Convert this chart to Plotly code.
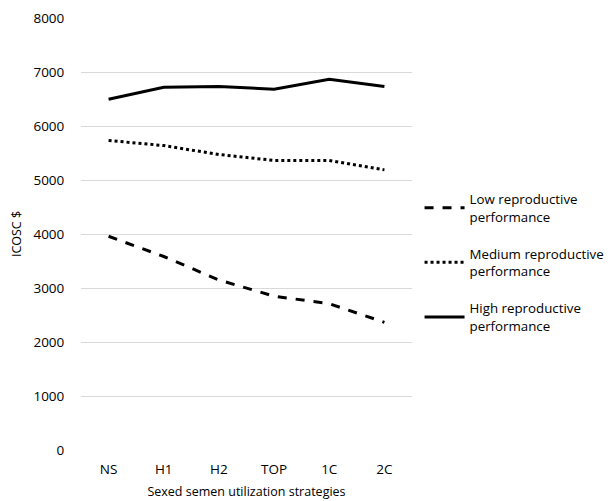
import plotly.graph_objects as go

strategies = ["NS", "H1", "H2", "TOP", "1C", "2C"]
low_perf = [3960, 3585, 3150, 2850, 2710, 2365]
medium_perf = [5735, 5640, 5475, 5365, 5365, 5190]
high_perf = [6500, 6720, 6735, 6685, 6870, 6735]

series = [
    ("Low reproductive<br>performance", low_perf, "dash"),
    ("Medium reproductive<br>performance", medium_perf, "dot"),
    ("High reproductive<br>performance", high_perf, "solid"),
]

fig = go.Figure()
for i, (name, values, dash) in enumerate(series):
    fig.add_trace(
        go.Scatter(
            x=strategies,
            y=values,
            name=name,
            legendgroup=f"g{i}",
            mode="lines",
            line=dict(color="black", width=3, dash=dash),
        )
    )

# the page body has an 8px margin, so the figure is 8px smaller than the window
fig.update_layout(
    width=607,
    height=493,
    margin=dict(l=73, r=203, t=10, b=51),
    plot_bgcolor="white",
    paper_bgcolor="white",
    font=dict(family="Open Sans", size=12, color="black"),
    legend=dict(
        xref="container",
        yref="container",
        x=0.678,
        y=0.643,
        xanchor="left",
        yanchor="top",
        tracegroupgap=17,
        font=dict(size=13.3),
        itemwidth=40,
    ),
)
fig.update_xaxes(
    title=dict(text="Sexed semen utilization strategies", standoff=10, font=dict(size=12.5)),
    range=[-0.5, 5.5],
    showgrid=False,
    ticks="outside",
    ticklen=7,
    tickcolor="rgba(0,0,0,0)",
    tickfont=dict(size=13.5),
    automargin=False,
)
fig.update_yaxes(
    title=dict(text="ICOSC $", standoff=10, font=dict(size=12.5)),
    range=[0, 8004],
    tickvals=[0, 1000, 2000, 3000, 4000, 5000, 6000, 7000, 8000],
    showgrid=True,
    gridcolor="#d9d9d9",
    zeroline=False,
    ticks="outside",
    ticklen=13,
    tickcolor="rgba(0,0,0,0)",
    tickfont=dict(size=13.5),
    ticklabeloverflow="allow",
    automargin=False,
)

fig.write_html("out.html")
